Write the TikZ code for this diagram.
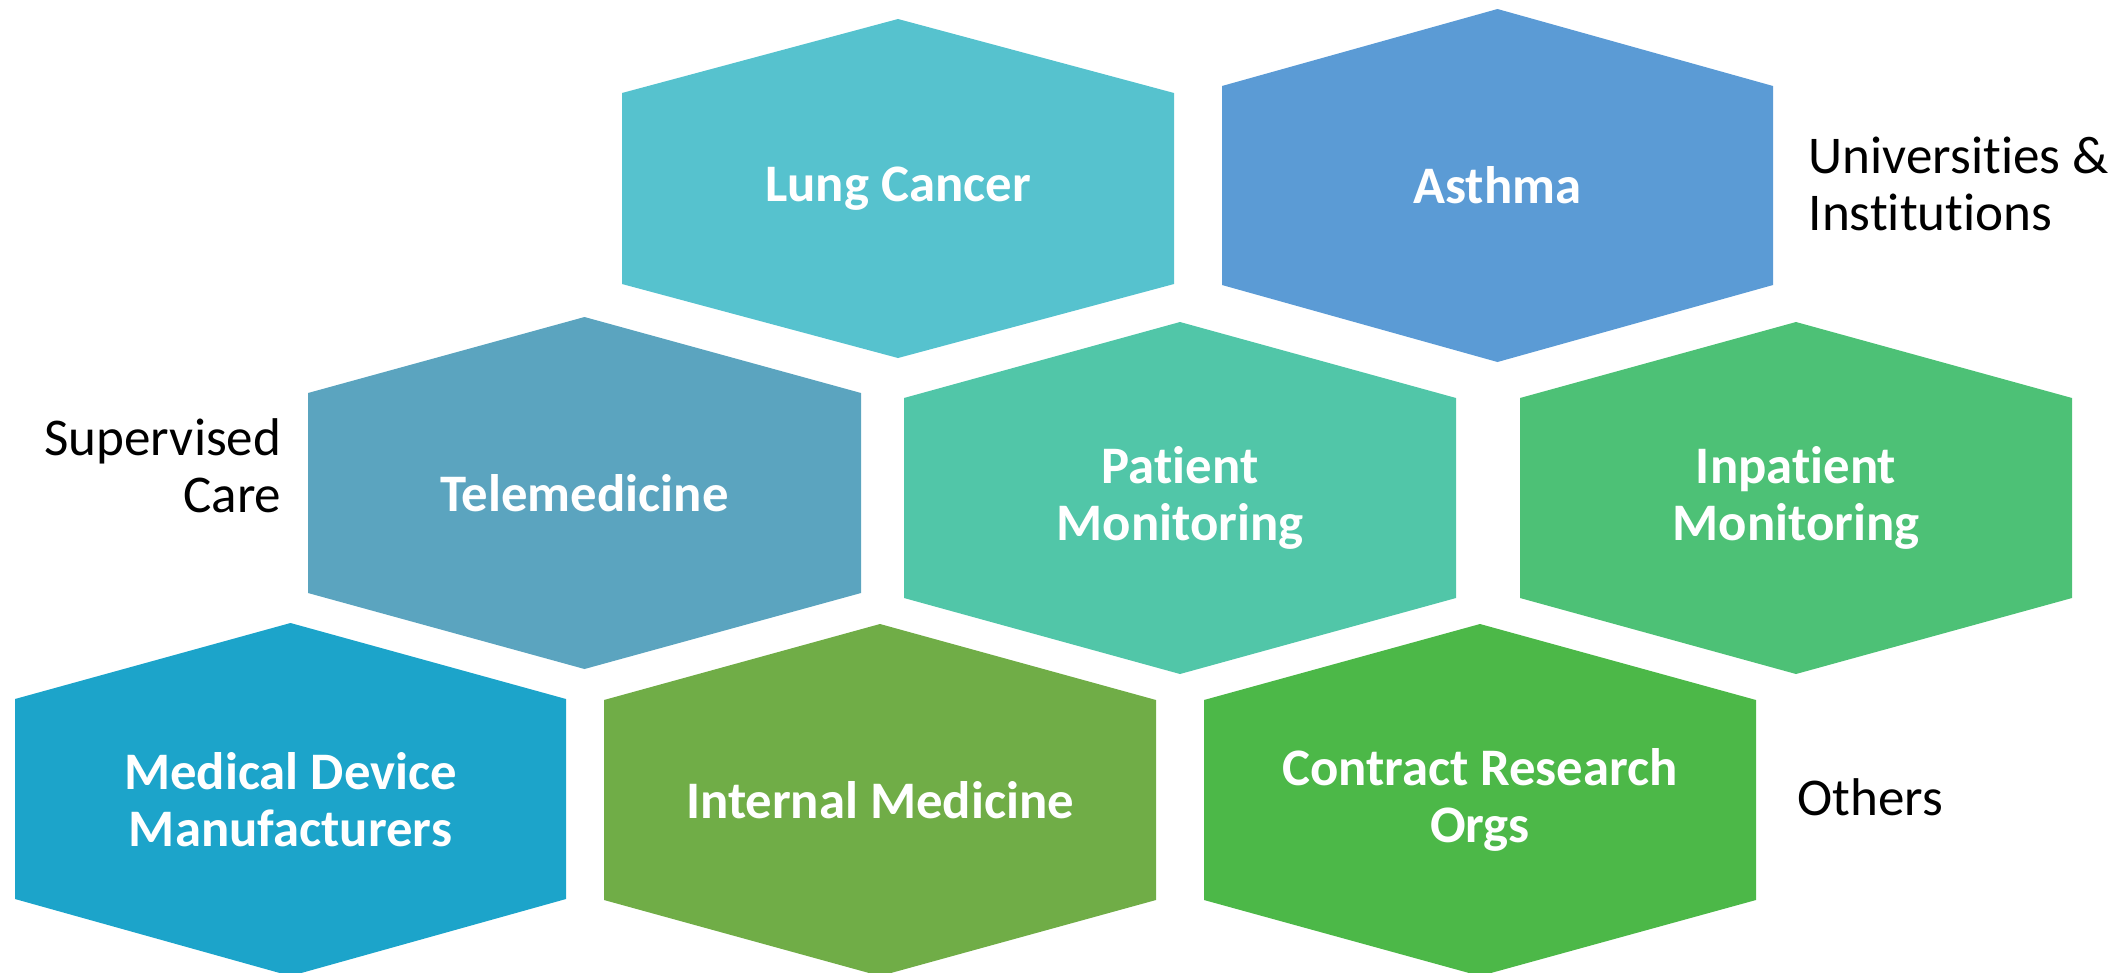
\documentclass[tikz,border=0pt]{standalone}
\usepackage{fontspec}
\setmainfont{Carlito}[Ligatures={NoCommon,NoContextual,NoRare},Contextuals=NoAlternate]
\definecolor{cLung}{HTML}{56C2CE}
\definecolor{cAsthma}{HTML}{5B9BD5}
\definecolor{cTele}{HTML}{5BA4BF}
\definecolor{cPatient}{HTML}{51C6A8}
\definecolor{cInpat}{HTML}{4DC176}
\definecolor{cMed}{HTML}{1CA4CA}
\definecolor{cInt}{HTML}{70AD47}
\definecolor{cCro}{HTML}{4CB848}
\tikzset{
  hexlabel/.style={text=white, font=\fontsize{15pt}{16.3pt}\selectfont\bfseries, align=center, inner sep=0pt},
  sidelabel/.style={text=black, font=\fontsize{15.1pt}{16.3pt}\selectfont, inner sep=0pt}
}
% #1 name, #2 left, #3 right, #4 top, #5 upper shoulder, #6 lower shoulder, #7 bottom, #8 colour, #9 text
\newcommand{\hexa}[9]{%
  \fill[#8] (#2,#5) -- ({(#2+#3)/2},#4) -- (#3,#5) -- (#3,#6) -- ({(#2+#3)/2},#7) -- (#2,#6) -- cycle;
  \node[hexlabel] (#1) at ({(#2+#3)/2},{(#4+#7)/2}) {#9};%
}
\begin{document}
\begin{tikzpicture}[x=0.01cm,y=-0.01cm]
\useasboundingbox (0,0) rectangle (2126,972);
\hexa{lung}{622}{1174}{19}{93}{284}{358}{cLung}{Lung Cancer}
\hexa{asthma}{1222}{1773}{9}{86}{285}{362}{cAsthma}{Asthma}
\hexa{tele}{308}{861}{317}{393}{593}{669}{cTele}{Telemedicine}
\hexa{patient}{904}{1456}{322}{398}{598}{674}{cPatient}{Patient\\Monitoring}
\hexa{inpat}{1520}{2072}{322}{398}{598}{674}{cInpat}{Inpatient\\Monitoring}
\hexa{med}{15}{566}{623}{699}{899}{976}{cMed}{Medical Device\\Manufacturers}
\hexa{int}{604}{1156}{624}{700}{900}{976}{cInt}{Internal Medicine}
\hexa{cro}{1204}{1756}{624}{700}{900}{976}{cCro}{Contract Research\\Orgs}
\node[sidelabel, anchor=west, align=left] (univ) at (1808,184) {Universities \&\\Institutions};
\node[sidelabel, anchor=east, align=right] (sup) at (282,466) {Supervised\\Care};
\node[sidelabel, anchor=base west] (others) at (1797,815) {Others};
\end{tikzpicture}
\end{document}
